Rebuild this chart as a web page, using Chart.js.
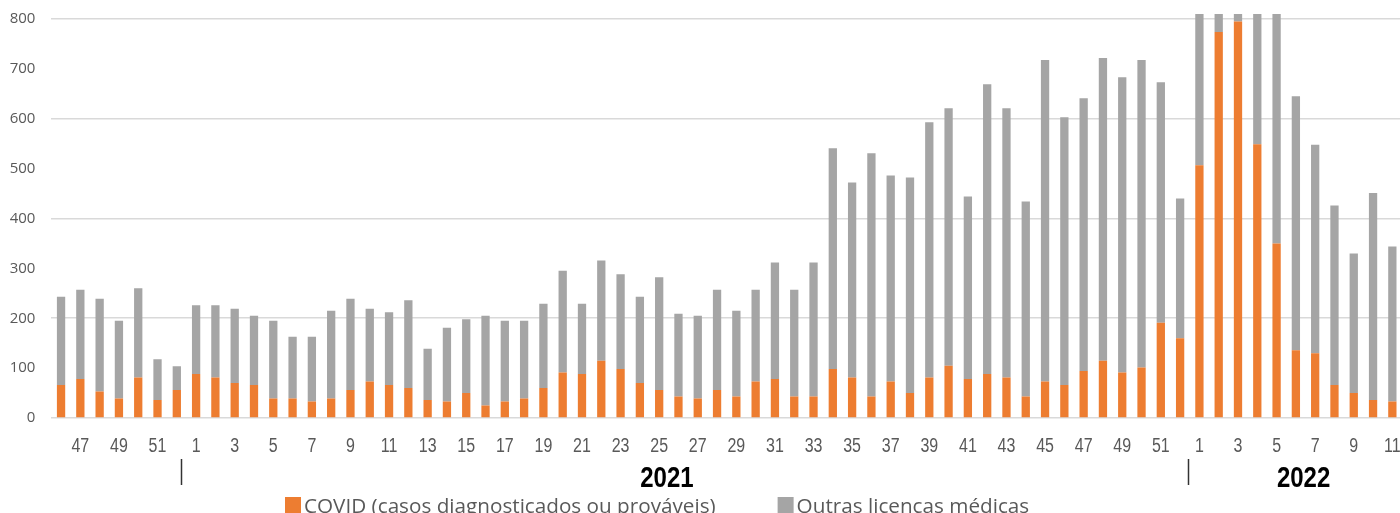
<!DOCTYPE html>
<html>
<head>
<meta charset="utf-8">
<script src="https://cdn.jsdelivr.net/npm/chart.js@4/dist/chart.umd.min.js"></script>
<style>
  html, body { margin: 0; padding: 0; background: #fff; overflow: hidden; }
  #wrap { position: relative; width: 1402px; height: 530px; }
</style>
</head>
<body>
<div id="wrap"><canvas id="chart"></canvas></div>
<script>
// epidemiological weeks, 2020 wk46 -> 2022 wk11
const weeks = [
  46, 47, 48, 49, 50, 51, 52,
  1, 2, 3, 4, 5, 6, 7, 8, 9, 10, 11, 12, 13, 14, 15, 16, 17, 18, 19, 20,
  21, 22, 23, 24, 25, 26, 27, 28, 29, 30, 31, 32, 33, 34, 35, 36, 37, 38, 39, 40,
  41, 42, 43, 44, 45, 46, 47, 48, 49, 50, 51, 52,
  1, 2, 3, 4, 5, 6, 7, 8, 9, 10, 11
];

// COVID (diagnosed or probable)
const covid = [
  66, 78, 53, 39, 81, 36, 56,
  88, 81, 70, 66, 39, 39, 33, 39, 56, 73, 66, 60, 36, 33, 50, 25, 33, 39, 60, 91,
  88, 115, 98, 70, 56, 43, 39, 56, 43, 73, 78, 43, 43, 98, 81, 43, 73, 50, 81, 105,
  78, 88, 81, 43, 73, 66, 94, 115, 91, 101, 191, 160,
  507, 774, 795, 549, 350, 136, 130, 66, 50, 36, 33
];

// other medical leave
const others = [
  177, 179, 186, 156, 179, 82, 48,
  138, 145, 149, 139, 156, 124, 130, 176, 183, 146, 146, 176, 103, 148, 148, 180, 162, 156, 169, 204,
  141, 201, 190, 173, 226, 166, 166, 201, 172, 184, 234, 214, 269, 443, 391, 488, 413, 432, 512, 516,
  366, 581, 540, 391, 645, 537, 547, 607, 592, 617, 482, 280,
  643, 276, 205, 451, 500, 509, 418, 360, 280, 415, 311
];

const yTicks = [0, 100, 200, 300, 400, 500, 600, 700, 800];

const seriesNames = ['COVID (casos diagnosticados ou prováveis)', 'Outras licencas médicas'];
const seriesColors = ['#ed7d31', '#a5a5a5'];

// year annotations (in category units)
const years = [
  { label: '2021', sepAt: 6.2, labelAt: 31.4 },
  { label: '2022', sepAt: 58.4, labelAt: 64.4 }
];

const TEXT = '#595959';

// narrow text: Liberation Sans squeezed horizontally
function narrowText(c, txt, x, y, squeeze) {
  c.save();
  c.translate(x, y);
  c.scale(squeeze, 1);
  c.fillText(txt, 0, 0);
  c.restore();
}

// week labels, year separators, year names and the legend under the axis
const extras = {
  id: 'extras',
  afterDraw(chart) {
    const c = chart.ctx;
    const x = chart.scales.x;
    c.save();

    // week numbers (odd weeks only)
    c.fillStyle = TEXT;
    c.font = '20px "Liberation Sans", Arial, sans-serif';
    c.textAlign = 'center';
    c.textBaseline = 'alphabetic';
    weeks.forEach((w, i) => {
      if (w % 2) narrowText(c, String(w), x.getPixelForValue(i), 452, 0.8);
    });

    years.forEach(y => {
      const sx = Math.round(x.getPixelForValue(y.sepAt)) + 0.5;
      c.strokeStyle = '#333';
      c.lineWidth = 1.5;
      c.beginPath();
      c.moveTo(sx, 459);
      c.lineTo(sx, 485);
      c.stroke();
      c.fillStyle = '#000';
      c.font = 'bold 30px "Liberation Sans", Arial, sans-serif';
      narrowText(c, y.label, x.getPixelForValue(y.labelAt), 487, 0.8);
    });

    // legend
    c.font = '20.7px "Open Sans", sans-serif';
    c.textAlign = 'left';
    let lx = 285;
    chart.data.datasets.forEach(ds => {
      c.fillStyle = ds.backgroundColor;
      c.fillRect(lx, 497, 16, 16);
      c.fillStyle = TEXT;
      c.fillText(ds.label, lx + 19, 513);
      lx += 19 + c.measureText(ds.label).width + 62;
    });
    c.restore();
  }
};

new Chart(document.getElementById('chart'), {
  type: 'bar',
  data: {
    labels: weeks.map(String),
    datasets: [
      { label: seriesNames[0], data: covid, backgroundColor: seriesColors[0] },
      { label: seriesNames[1], data: others, backgroundColor: seriesColors[1] }
    ]
  },
  options: {
    responsive: true,
    maintainAspectRatio: false,
    animation: false,
    layout: { padding: { top: 14, left: 0, right: 0, bottom: 0 } },
    datasets: { bar: { barPercentage: 0.43, categoryPercentage: 1 } },
    plugins: { legend: { display: false }, tooltip: { enabled: false } },
    scales: {
      x: {
        stacked: true,
        grid: { display: false },
        border: { display: false },
        ticks: { display: false },
        afterFit: s => {
          s.height = 112;
          s.paddingLeft = 0;
          s.paddingRight = 0;
        }
      },
      y: {
        stacked: true,
        min: 0,
        max: 810,
        border: { display: false },
        grid: {
          drawTicks: false,
          lineWidth: 1.5,
          color: ctx => (ctx.tick && ctx.tick.value % 200 === 0 ? '#d9d9d9' : 'rgba(0,0,0,0)')
        },
        afterBuildTicks: s => { s.ticks = yTicks.map(v => ({ value: v })); },
        ticks: {
          padding: 16,
          color: TEXT,
          font: { family: '"Open Sans", sans-serif', size: 15 },
          callback: v => String(v)
        },
        afterFit: s => {
          s.width = 51.4;
          s.paddingTop = 0;
          s.paddingBottom = 0;
        }
      }
    }
  },
  plugins: [extras]
});
</script>
</body>
</html>
